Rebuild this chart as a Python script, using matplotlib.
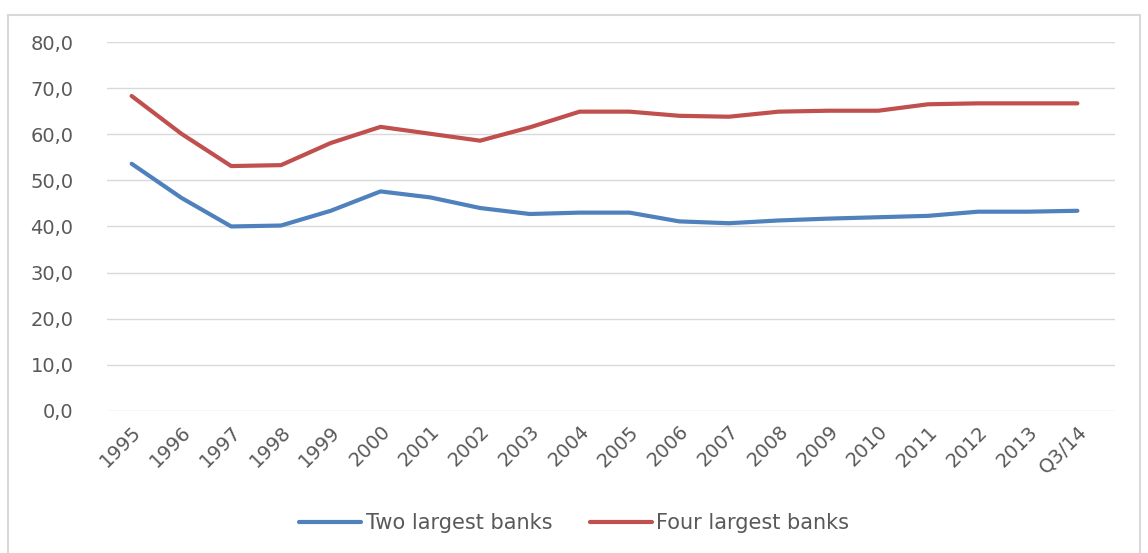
import matplotlib
matplotlib.use("Agg")
import matplotlib.pyplot as plt
from matplotlib.patches import Rectangle

years = ["1995", "1996", "1997", "1998", "1999", "2000", "2001", "2002", "2003", "2004",
         "2005", "2006", "2007", "2008", "2009", "2010", "2011", "2012", "2013", "Q3/14"]
two_largest = [53.6, 46.2, 40.0, 40.2, 43.4, 47.6, 46.3, 44.0, 42.7, 43.0,
               43.0, 41.1, 40.7, 41.3, 41.7, 42.0, 42.3, 43.2, 43.2, 43.4]
four_largest = [68.3, 60.1, 53.1, 53.3, 58.1, 61.6, 60.1, 58.6, 61.5, 64.9,
                64.9, 64.0, 63.8, 64.9, 65.1, 65.1, 66.5, 66.7, 66.7, 66.7]

plt.rcParams["font.family"] = ["DejaVu Sans"]
text_color = "#595959"

fig = plt.figure(figsize=(11.48, 5.53), dpi=100)
fig.patches.append(Rectangle((8 / 1148, -0.1), 1132 / 1148, 1.1 - 15 / 553,
                             transform=fig.transFigure, fill=False,
                             edgecolor="#d9d9d9", linewidth=1.5))
ax = fig.add_axes([0.093, 0.257, 0.878, 0.667])

x = list(range(len(years)))
ax.plot(x, two_largest, color="#4F81BD", linewidth=3, label="Two largest banks",
        solid_capstyle="round")
ax.plot(x, four_largest, color="#C0504D", linewidth=3, label="Four largest banks",
        solid_capstyle="round")

ax.set_ylim(0, 80)
ax.set_xlim(-0.5, len(years) - 0.25)
ax.set_yticks(range(0, 81, 10))
ax.set_yticklabels([f"{v},0" for v in range(0, 81, 10)])
ax.set_xticks(x)
ax.set_xticklabels(years, rotation=45, ha="right", rotation_mode="anchor")
ax.tick_params(axis="both", length=0, colors=text_color, labelsize=14)
ax.tick_params(axis="y", pad=24)
ax.tick_params(axis="x", pad=8)
ax.grid(axis="y", color="#d9d9d9", linewidth=1)
ax.set_axisbelow(True)
for s in ax.spines.values():
    s.set_visible(False)

leg = fig.legend(loc="center", bbox_to_anchor=(0.5, 0.054), ncol=2, frameon=False,
                 fontsize=15, handlelength=3.0, handletextpad=0.2, columnspacing=1.8)
for t in leg.get_texts():
    t.set_color(text_color)

fig.savefig("out.png", dpi=100)
